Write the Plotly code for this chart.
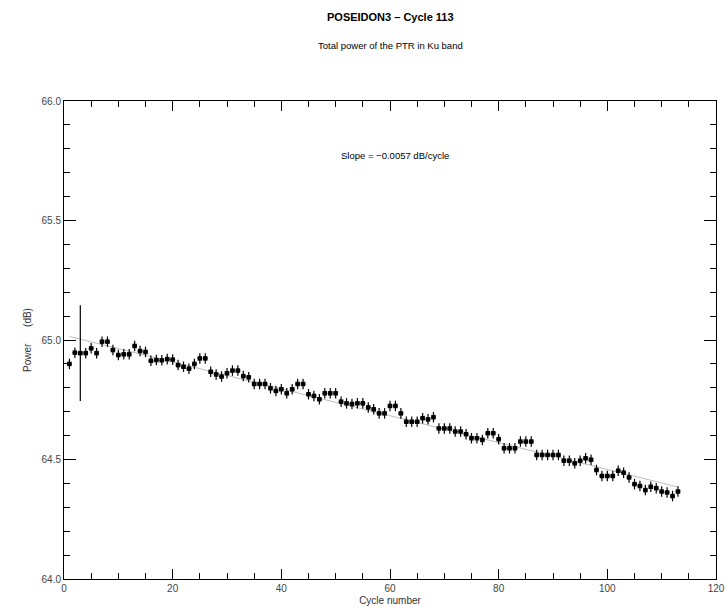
import numpy as np
import plotly.graph_objects as go

cycles = list(range(1, 114))
power = [
    64.900, 64.947, 64.945, 64.945, 64.965, 64.945, 64.993, 64.993, 64.958, 64.937,
    64.940, 64.940, 64.975, 64.954, 64.950, 64.913, 64.916, 64.915, 64.920, 64.918,
    64.895, 64.888, 64.880, 64.900, 64.923, 64.923, 64.867, 64.856, 64.847, 64.861,
    64.872, 64.872, 64.849, 64.844, 64.816, 64.816, 64.816, 64.798, 64.787, 64.794,
    64.777, 64.794, 64.816, 64.816, 64.773, 64.766, 64.752, 64.777, 64.777, 64.777,
    64.742, 64.735, 64.732, 64.735, 64.735, 64.718, 64.710, 64.693, 64.693, 64.724,
    64.724, 64.693, 64.658, 64.658, 64.658, 64.673, 64.668, 64.677, 64.630, 64.630,
    64.630, 64.617, 64.617, 64.606, 64.589, 64.589, 64.582, 64.610, 64.610, 64.585,
    64.547, 64.547, 64.547, 64.575, 64.575, 64.575, 64.519, 64.519, 64.519, 64.519,
    64.519, 64.495, 64.495, 64.484, 64.495, 64.505, 64.499, 64.456, 64.431, 64.431,
    64.431, 64.453, 64.445, 64.425, 64.397, 64.389, 64.372, 64.386, 64.380, 64.366,
    64.362, 64.347, 64.366,
]
power_err = [0.022] * 113
power_err[2] = 0.20

x_ticks = [0, 20, 40, 60, 80, 100, 120]
x_minor_step = 5
y_ticks = [64.0, 64.5, 65.0, 65.5, 66.0]
y_minor_step = 0.1

title_text = "<b>POSEIDON3 – Cycle 113</b>"
subtitle_text = "Total power of the PTR in Ku band"
slope_text = "Slope = −0.0057 dB/cycle"

# linear fit of the data
coef = np.polyfit(cycles, power, 1)
fit_x = [cycles[0], cycles[-1]]
fit_y = [coef[0] * v + coef[1] for v in fit_x]

fig = go.Figure()
fig.add_trace(go.Scatter(
    x=fit_x, y=fit_y, mode="lines",
    line=dict(color="#bdbdbd", width=1), hoverinfo="skip", showlegend=False,
))
fig.add_trace(go.Scatter(
    x=cycles, y=power, mode="markers",
    marker=dict(symbol="square", size=4.5, color="black"),
    error_y=dict(type="data", array=power_err, visible=True, color="black",
                 thickness=1.2, width=0),
    error_x=dict(type="constant", value=0.45, visible=True, color="black",
                 thickness=1.2, width=0),
    showlegend=False,
))

FONT = "Liberation Sans, Arial, sans-serif"
tick_font = dict(family=FONT, size=10, color="#444444")
title_font = dict(family=FONT, size=10, color="#333333")
fig.update_layout(
    width=726, height=611,
    margin=dict(l=64, r=10, t=101, b=32, autoexpand=False),
    paper_bgcolor="white", plot_bgcolor="white",
    font=dict(family=FONT, color="black"),
    xaxis=dict(
        range=[0, 120], tick0=0, dtick=x_ticks[1] - x_ticks[0],
        ticks="inside", ticklen=10, tickwidth=1, tickcolor="#000000",
        minor=dict(dtick=x_minor_step, ticks="inside", ticklen=6,
                   tickwidth=1, tickcolor="#000000"),
        showline=True, linecolor="black", linewidth=1, mirror="allticks",
        showgrid=False, zeroline=False, tickfont=tick_font,
        title=dict(text="Cycle number", font=title_font, standoff=3),
    ),
    yaxis=dict(
        range=[64.0, 66.0], tick0=64.0, dtick=y_ticks[1] - y_ticks[0],
        tickformat=".1f",
        ticks="inside", ticklen=12, tickwidth=1, tickcolor="#000000",
        minor=dict(dtick=y_minor_step, ticks="inside", ticklen=6,
                   tickwidth=1, tickcolor="#000000"),
        showline=True, linecolor="black", linewidth=1, mirror="allticks",
        showgrid=False, zeroline=False, tickfont=tick_font,
        title=dict(text="Power      (dB)", font=title_font, standoff=8),
    ),
    annotations=[
        dict(text=title_text, xref="paper", yref="paper", x=0.5, y=1.176,
             showarrow=False, font=dict(size=11, color="black"),
             xanchor="center", yanchor="middle"),
        dict(text=subtitle_text, xref="paper", yref="paper", x=0.5, y=1.117,
             showarrow=False, font=dict(size=9.5, color="black"),
             xanchor="center", yanchor="middle"),
        dict(text=slope_text, xref="x", yref="y", x=61, y=65.774,
             showarrow=False, font=dict(size=9.5, color="black"),
             xanchor="center", yanchor="middle"),
    ],
)

fig.write_html(
    "out.html",
    config={"displayModeBar": False},
    post_script="document.body.style.margin='0';document.body.style.overflow='hidden';",
)
